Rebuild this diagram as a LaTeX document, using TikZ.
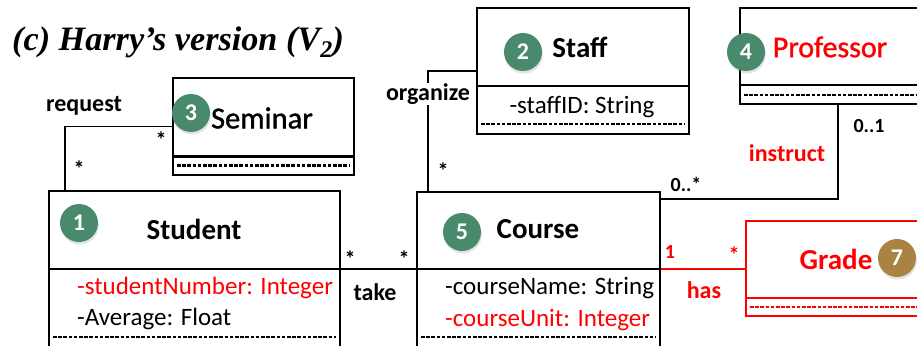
\documentclass[tikz,border=0pt]{standalone}
\usepackage{fontspec}
\setmainfont{Carlito}
\newfontfamily\semibold[FakeBold=1.2]{Carlito}
\newfontfamily\titlefont{Liberation Serif}
\usetikzlibrary{shadows,calc}
\definecolor{badgegreen}{HTML}{4A8A6C}
\definecolor{badgebrown}{HTML}{A98343}
\definecolor{umlred}{HTML}{FF0000}
\begin{document}
\begin{tikzpicture}[x=1pt,y=-1pt,
  box/.style={draw, line width=1.8pt, inner sep=0pt, anchor=north west},
  sep/.style={line width=2.6pt},
  dashsep/.style={line width=2.2pt, dash pattern=on 3.6pt off 1.6pt},
  assoc/.style={line width=1.8pt},
  cname/.style={font=\fontsize{29}{34}\selectfont\bfseries, inner sep=0pt},
  cnamelight/.style={font=\semibold\fontsize{30.5}{34}\selectfont, inner sep=0pt},
  attr/.style={font=\fontsize{25}{30}\selectfont, anchor=west, inner sep=0pt},
  rolelbl/.style={font=\fontsize{24}{28}\selectfont\bfseries, inner sep=0pt},
  mult/.style={font=\fontsize{20}{24}\selectfont\bfseries, inner sep=0pt},
  star/.style={font=\fontsize{22}{24}\selectfont\bfseries, inner sep=0pt},
  badge/.style={circle, fill=badgegreen, minimum size=38pt, inner sep=0pt, text=white,
    font=\fontsize{24}{26}\selectfont\bfseries,
    drop shadow={opacity=0.22, shadow xshift=0.8pt, shadow yshift=-2.5pt}}
]
\useasboundingbox (0,0) rectangle (917,345);

% title
\node[anchor=base west, inner sep=0pt, font=\titlefont\fontsize{34.2}{38}\selectfont\bfseries\itshape]
  (title) at (12,50) {(c) Harry’s version (V\textsubscript{2})};

% ---- class boxes ----
% Seminar
\node[box, minimum width=181pt, minimum height=97pt] (seminar) at (172,77) {};
\draw[sep] ($(seminar.north west)+(0,79.5)$) -- ($(seminar.north east)+(0,79.5)$);
\draw[dashsep] ($(seminar.north west)+(5,88.5)$) -- ($(seminar.north east)+(-5,88.5)$);
% Staff
\node[box, minimum width=212pt, minimum height=126pt] (staff) at (476,7) {};
\draw[sep] ($(staff.north west)+(0,79)$) -- ($(staff.north east)+(0,79)$);
\draw[dashsep] ($(staff.north west)+(5,117)$) -- ($(staff.north east)+(-5,117)$);
% Professor
\node[box, minimum width=181pt, minimum height=96pt] (professor) at (739,7) {};
\draw[sep] ($(professor.north west)+(0,78)$) -- ($(professor.north east)+(0,78)$);
\draw[dashsep] ($(professor.north west)+(5,88)$) -- ($(professor.north east)+(-5,88)$);
% Student
\node[box, minimum width=291pt, minimum height=158pt] (student) at (48,190) {};
\draw[sep] ($(student.north west)+(0,79)$) -- ($(student.north east)+(0,79)$);
\draw[dashsep] ($(student.north west)+(5,147)$) -- ($(student.north east)+(-5,147)$);
% Course
\node[box, minimum width=243pt, minimum height=157pt] (course) at (416,191) {};
\draw[sep] ($(course.north west)+(0,78)$) -- ($(course.north east)+(0,78)$);
\draw[dashsep] ($(course.north west)+(5,146)$) -- ($(course.north east)+(-5,146)$);
% Grade
\node[box, draw=umlred, minimum width=175pt, minimum height=95pt] (grade) at (745,220) {};
\draw[sep, umlred] ($(grade.north west)+(0,78)$) -- ($(grade.north east)+(0,78)$);
\draw[dashsep, umlred] ($(grade.north west)+(5,87)$) -- ($(grade.north east)+(-5,87)$);

% ---- associations ----
\draw[assoc] ($(student.north west)+(17,0)$) |- (seminar.west);
\draw[assoc] ($(course.north west)+(12,0)$) |- (staff.west);
\draw[assoc] ($(course.north east)+(0,8)$) -| ($(professor.south west)+(99,0)$);
\draw[assoc] ($(student.north east)+(0,79)$) -- ($(course.north west)+(0,78)$);
\coordinate (hasA) at ($(course.north east)+(0,78)$);
\draw[assoc, umlred] (hasA) -- (hasA -| grade.west);

% ---- class names and attributes ----
\node[cnamelight] (seminarT) at (262,118) {Seminar};
\node[cname] (staffT) at (580,47) {Staff};
\node[cnamelight, font=\semibold\fontsize{30}{34}\selectfont, text=umlred] (professorT) at (830,47) {Professor};
\node[cname] (studentT) at (194,229) {Student};
\node[cname] (courseT) at (538,229) {Course};
\node[cname, text=umlred] (gradeT) at (836,259) {Grade};

\node[attr, anchor=center] (staffA) at (582,107) {-staffID: String};
\node[attr, text=umlred] (studentA1) at (77,288) {-studentNumber: Integer};
\node[attr] (studentA2) at (77,319) {-Average: Float};
\node[attr] (courseA1) at (445,288) {-courseName: String};
\node[attr, text=umlred] (courseA2) at (445,320) {-courseUnit: Integer};

% ---- numbered badges ----
\node[badge] (b1) at (79,223) {1};
\node[badge] (b2) at (523,52) {2};
\node[badge] (b3) at (191,113) {3};
\node[badge] (b4) at (746,52) {4};
\node[badge] (b5) at (462,232) {5};
\node[badge, fill=badgebrown] (b7) at (897,258) {7};

% ---- association labels ----
\node[rolelbl] (reqL) at (84,106) {request};
\node[rolelbl, fill=white, inner sep=1pt] (orgL) at (428,94) {organize};
\node[rolelbl, text=umlred] (insL) at (787,153) {instruct};
\node[rolelbl] (takeL) at (375,292) {take};
\node[rolelbl, text=umlred] (hasL) at (704,290) {has};

\node[star] (m1) at (161,140) {*};
\node[star] (m2) at (79,169) {*};
\node[star] (m3) at (443,171) {*};
\node[star] (m4) at (350,259) {*};
\node[star] (m5) at (404,259) {*};
\node[mult] (m6) at (869,126) {0..1};
\node[mult] (m7) at (686,184) {0..*};
\node[mult, text=umlred] (m8) at (670,252) {1};
\node[star, text=umlred] (m9) at (734,255) {*};
\end{tikzpicture}
\end{document}
